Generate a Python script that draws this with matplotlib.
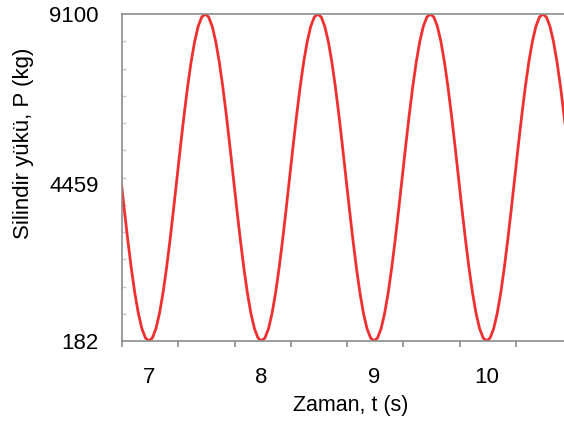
import matplotlib
matplotlib.use("Agg")
import matplotlib.pyplot as plt
import numpy as np

plt.rcParams['font.family'] = ['Liberation Sans', 'DejaVu Sans']

# time (s), sampled every 1/32 s
t = [6.75, 6.78125, 6.8125, 6.84375, 6.875, 6.90625, 6.9375, 6.96875,
     7.0, 7.03125, 7.0625, 7.09375, 7.125, 7.15625, 7.1875, 7.21875,
     7.25, 7.28125, 7.3125, 7.34375, 7.375, 7.40625, 7.4375, 7.46875,
     7.5, 7.53125, 7.5625, 7.59375, 7.625, 7.65625, 7.6875, 7.71875,
     7.75, 7.78125, 7.8125, 7.84375, 7.875, 7.90625, 7.9375, 7.96875,
     8.0, 8.03125, 8.0625, 8.09375, 8.125, 8.15625, 8.1875, 8.21875,
     8.25, 8.28125, 8.3125, 8.34375, 8.375, 8.40625, 8.4375, 8.46875,
     8.5, 8.53125, 8.5625, 8.59375, 8.625, 8.65625, 8.6875, 8.71875,
     8.75, 8.78125, 8.8125, 8.84375, 8.875, 8.90625, 8.9375, 8.96875,
     9.0, 9.03125, 9.0625, 9.09375, 9.125, 9.15625, 9.1875, 9.21875,
     9.25, 9.28125, 9.3125, 9.34375, 9.375, 9.40625, 9.4375, 9.46875,
     9.5, 9.53125, 9.5625, 9.59375, 9.625, 9.65625, 9.6875, 9.71875,
     9.75, 9.78125, 9.8125, 9.84375, 9.875, 9.90625, 9.9375, 9.96875,
     10.0, 10.03125, 10.0625, 10.09375, 10.125, 10.15625, 10.1875, 10.21875,
     10.25, 10.28125, 10.3125, 10.34375, 10.375, 10.40625, 10.4375, 10.46875,
     10.5, 10.53125, 10.5625, 10.59375, 10.625, 10.65625, 10.6875, 10.71875,
     10.75]

# cylinder load (kg)
load = [4641, 3771, 2935, 2164, 1488, 933, 521, 268,
        182, 268, 521, 933, 1488, 2164, 2935, 3771,
        4641, 5511, 6347, 7118, 7794, 8349, 8761, 9014,
        9100, 9014, 8761, 8349, 7794, 7118, 6347, 5511,
        4641, 3771, 2935, 2164, 1488, 933, 521, 268,
        182, 268, 521, 933, 1488, 2164, 2935, 3771,
        4641, 5511, 6347, 7118, 7794, 8349, 8761, 9014,
        9100, 9014, 8761, 8349, 7794, 7118, 6347, 5511,
        4641, 3771, 2935, 2164, 1488, 933, 521, 268,
        182, 268, 521, 933, 1488, 2164, 2935, 3771,
        4641, 5511, 6347, 7118, 7794, 8349, 8761, 9014,
        9100, 9014, 8761, 8349, 7794, 7118, 6347, 5511,
        4641, 3771, 2935, 2164, 1488, 933, 521, 268,
        182, 268, 521, 933, 1488, 2164, 2935, 3771,
        4641, 5511, 6347, 7118, 7794, 8349, 8761, 9014,
        9100, 9014, 8761, 8349, 7794, 7118, 6347, 5511,
        4641]

ytick_vals = [182, 4459, 9100]
xtick_vals = [7, 8, 9, 10]

fig = plt.figure(figsize=(5.64, 4.25), dpi=100)
ax = fig.add_axes([122/564, 1 - 341/425, 444/564, 327/425])

ax.plot(t, load, color='#f03030', lw=2.0, solid_joinstyle='round')

ax.set_xlim(6.761, 10.705)
ax.set_ylim(182, 9100)

grey = '#8c8c8c'
for side in ['left', 'bottom', 'top', 'right']:
    ax.spines[side].set_color(grey)
    ax.spines[side].set_linewidth(1.2)

# x: tick marks between the labels, labels at whole seconds
ax.set_xticks(np.arange(6.761, 10.75, 0.5))
ax.set_xticklabels([])
ax.set_xticks(xtick_vals, minor=True)
ax.set_xticklabels([str(v) for v in xtick_vals], minor=True, fontsize=16)
ax.tick_params(axis='x', which='major', direction='out', length=4, color=grey, width=1.2)
ax.tick_params(axis='x', which='minor', length=0, pad=19)

# y: labels at three values, small inner marks
ax.set_yticks(ytick_vals)
ax.set_yticklabels([str(v) for v in ytick_vals], fontsize=16)
ax.set_yticks(np.linspace(182, 9100, 13), minor=True)
ax.tick_params(axis='y', which='major', length=0, pad=17)
ax.tick_params(axis='y', which='minor', direction='in', length=3, color='#c8c8c8', width=1)

ax.set_xlabel('Zaman, t (s)', fontsize=15.5)
ax.xaxis.set_label_coords(0.514, -0.196)
ax.xaxis.label.set_va('center')
ax.set_ylabel('Silindir yükü, P (kg)', fontsize=16)
ax.yaxis.set_label_coords(-0.221, 0.605)
ax.yaxis.label.set_va('center')

fig.savefig('out.png', dpi=100)
